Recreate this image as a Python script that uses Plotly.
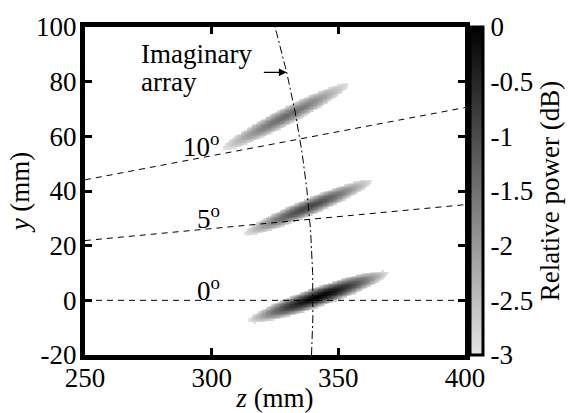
import numpy as np
import plotly.graph_objects as go

# ---- data ----
steer_angles_deg = [0, 5, 10]          # steering directions (dashed lines)
angle_labels = ["0<sup>o</sup>", "5<sup>o</sup>", "10<sup>o</sup>"]
label_z = [298.6, 298.6, 295.8]
label_y = [4.0, 30.4, 57.0]
array_radius_mm = 340.0                # imaginary array arc

# focal spots (centre, length, width, tilt, peak level)
spot_z = [342.0, 337.9, 329.0]
spot_y = [1.5, 34.2, 67.4]
spot_len = [58.0, 54.4, 55.3]
spot_width = [7.5, 6.5, 6.6]
spot_tilt_deg = [17.7, 21.1, 25.5]
spot_peak_db = [0.0, -0.9, -1.4]

x_ticks = [250, 300, 350, 400]
x_ticktext = ["250", "300", "350", "400"]
y_ticks = [-20, 0, 20, 40, 60, 80, 100]
y_ticktext = ["-20", "0", "20", "40", "60", "80", "100"]
cb_ticks = [0, -0.5, -1, -1.5, -2, -2.5, -3]
cb_ticktext = ["0", "-0.5", "-1", "-1.5", "-2", "-2.5", "-3"]

# ---- build the power map from the spot parameters ----
zg = np.arange(250, 400.01, 0.5)
yg = np.arange(-20, 100.01, 0.5)
Z, Y = np.meshgrid(zg, yg)
field = np.full(Z.shape, np.nan)
for zc, yc, L, W, t, pk in zip(spot_z, spot_y, spot_len, spot_width, spot_tilt_deg, spot_peak_db):
    th = np.deg2rad(t)
    u = (Z - zc) * np.cos(th) + (Y - yc) * np.sin(th)
    v = -(Z - zc) * np.sin(th) + (Y - yc) * np.cos(th)
    r = np.sqrt((u / (L / 2)) ** 2 + (v / (W / 2)) ** 2)
    val = pk - (pk + 3) * r ** 1.6
    val = np.where(r <= 1, val, np.nan)
    field = np.fmax(field, val)

FONT = "Liberation Serif"
FS = 27
fig = go.Figure()

fig.add_trace(go.Heatmap(
    x=zg, y=yg, z=field, zmin=-3, zmax=0,
    colorscale=[[0, "#e4e4e4"], [1, "#000000"]],
    hoverongaps=False, zsmooth="best",
    colorbar=dict(
        x=1.012, xanchor="left", xpad=0, ypad=0, len=1, y=0.5, yanchor="middle",
        thickness=13, outlinewidth=3, outlinecolor="black",
        tickvals=cb_ticks, ticktext=cb_ticktext, ticks="",
        tickfont=dict(family=FONT, size=FS, color="black"),
        title=dict(text="Relative power (dB)", side="right",
                   font=dict(family=FONT, size=FS, color="black")),
    ),
))

# steering lines
z_line = np.array([250.0, 400.0])
for a in steer_angles_deg:
    fig.add_trace(go.Scatter(x=z_line, y=z_line * np.tan(np.deg2rad(a)), mode="lines",
                             line=dict(color="black", width=1, dash="6px,5px"),
                             showlegend=False, hoverinfo="skip"))

# imaginary array arc
yy = np.linspace(-20, 100, 200)
fig.add_trace(go.Scatter(x=np.sqrt(array_radius_mm ** 2 - yy ** 2), y=yy, mode="lines",
                         line=dict(color="black", width=1, dash="8px,3px,2px,3px"),
                         showlegend=False, hoverinfo="skip"))

for txt, zz, yv in zip(angle_labels, label_z, label_y):
    fig.add_annotation(x=zz, y=yv, text=txt, showarrow=False,
                       font=dict(family=FONT, size=FS, color="black"))

fig.add_annotation(x=271.5, y=90.0, text="Imaginary", showarrow=False, xanchor="left",
                   font=dict(family=FONT, size=FS, color="black"))
fig.add_annotation(x=271.5, y=80.0, text="array", showarrow=False, xanchor="left",
                   font=dict(family=FONT, size=FS, color="black"))
ya = 83.4
fig.add_annotation(x=np.sqrt(array_radius_mm ** 2 - ya ** 2), y=ya, ax=320.0, ay=ya,
                   axref="x", ayref="y", text="", showarrow=True,
                   arrowhead=2, arrowsize=1.3, arrowwidth=1.2, arrowcolor="black")

axis_common = dict(showline=True, linewidth=5, linecolor="black", mirror="ticks",
                   ticks="inside", ticklen=7, tickwidth=3, tickcolor="black",
                   showgrid=False, zeroline=False, automargin=False,
                   tickfont=dict(family=FONT, size=FS, color="black"))
fig.update_xaxes(range=[250, 400], tickvals=x_ticks, ticktext=x_ticktext,
                 ticklabelstandoff=-5,
                 title=dict(text="<i>z</i> (mm)", standoff=0,
                            font=dict(family=FONT, size=FS, color="black")),
                 **axis_common)
fig.update_yaxes(range=[-20, 100], tickvals=y_ticks, ticktext=y_ticktext,
                 ticklabelstandoff=-2,
                 title=dict(text="<i>y</i> (mm)", standoff=0,
                            font=dict(family=FONT, size=FS, color="black")),
                 **axis_common)

fig.update_layout(width=569, height=413,
                  margin=dict(l=85, r=104, t=27, b=58, autoexpand=False),
                  plot_bgcolor="white", paper_bgcolor="white", showlegend=False)

fig.write_html("out.html", config={"displayModeBar": False},
               post_script="document.body.style.margin='0';document.body.style.overflow='hidden';")
